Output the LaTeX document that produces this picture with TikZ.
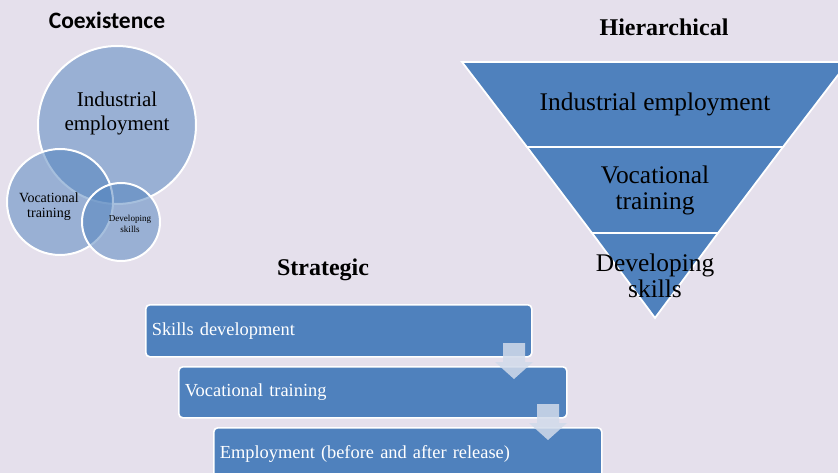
\documentclass[tikz,border=0pt]{standalone}
\usepackage{fontspec}
\setmainfont{Liberation Serif}
\newfontfamily\calibri{Carlito}
\usetikzlibrary{positioning}
\definecolor{paper}{HTML}{E5E0EC}
\definecolor{office}{HTML}{4F81BD}
\definecolor{pale}{HTML}{D2DBEA}
\begin{document}
\begin{tikzpicture}[x=1pt,y=-1pt,
  bubble/.style={circle, draw=white, line width=2pt, fill=office, fill opacity=.5, text opacity=1, inner sep=0pt, align=center},
  stepbox/.style={draw=white, line width=1.6pt, fill=office, rounded corners=4pt, text=white, anchor=north west, align=left, inner xsep=6pt, font=\fontsize{18.4}{21}\selectfont},
  layer/.style={draw=white, line width=1.8pt, fill=office},
  heading/.style={font=\bfseries\fontsize{24}{27}\selectfont},
  downarrow/.style={fill=pale, fill opacity=.85, draw=none}]
\fill[paper] (0,0) rectangle (838,473);
\useasboundingbox (0,0) rectangle (838,473);
% coexistence
\node[font=\calibri\bfseries\fontsize{23.5}{27}\selectfont] (coex) at (107,20) {Coexistence};
\node[bubble, minimum size=158pt] (ind) at (117,125) {};
\node[bubble, minimum size=106pt] (voc) at (60,202) {};
\node[bubble, minimum size=78pt] (dev) at (121,222) {};
\node[align=center, font=\fontsize{21}{24}\selectfont] at (117,113) {Industrial\\employment};
\node[align=center, font=\fontsize{14}{15}\selectfont] at (49,207) {Vocational\\training};
\node[align=center, font=\fontsize{9.1}{11}\selectfont] at (130,224) {Developing\\skills};
% hierarchical
\node[heading] (hier) at (664,27) {Hierarchical};
\draw[layer] (462,62) -- (848,62) -- (783,147) -- (527,147) -- cycle;
\draw[layer] (527,147) -- (783,147) -- (718,233) -- (592,233) -- cycle;
\draw[layer] (592,233) -- (718,233) -- (655,318) -- cycle;
\node[font=\fontsize{25.4}{27}\selectfont] (top) at (655,104) {Industrial employment};
\node[align=center, font=\fontsize{25.4}{26}\selectfont] (mid) at (655,190) {Vocational\\training};
\node[align=center, font=\fontsize{25.4}{26}\selectfont] (low) at (655,276) {Developing\\skills};
% strategic
\node[heading] (strat) at (323,270) {Strategic};
\node[stepbox, text width=374pt, minimum height=52pt, text height=13pt] (s1) at (145,304) {Skills development};
\node[stepbox, text width=376pt, minimum height=51pt, text height=13pt] (s2) at (178,366) {Vocational training};
\node[stepbox, text width=376pt, minimum height=52pt, text height=13pt] (s3) at (213,427) {Employment (before and after release)};
\coordinate (a1) at (514,343);
\coordinate (a2) at (548,404);
\foreach \a in {a1,a2}
  \fill[downarrow] (\a) ++(-11,0) -- ++(22,0) -- ++(0,19) -- ++(8,0) -- ++(-19,17) -- ++(-19,-17) -- ++(8,0) -- cycle;
\end{tikzpicture}
\end{document}
